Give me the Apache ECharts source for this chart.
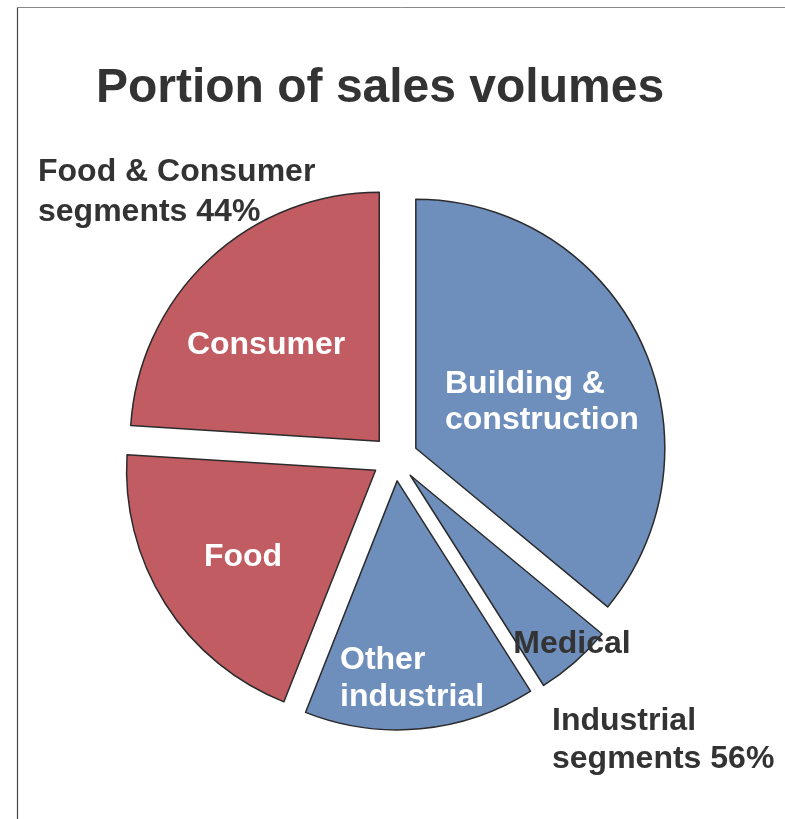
<!DOCTYPE html>
<html>
<head>
<meta charset="utf-8">
<script src="https://cdn.jsdelivr.net/npm/echarts@6/dist/echarts.min.js"></script>
<style>
html,body{margin:0;padding:0;background:#fff;}
#chart{width:785px;height:819px;}
</style>
</head>
<body>
<div id="chart"></div>
<script>
const categories = ['Building & construction', 'Medical', 'Other industrial', 'Food', 'Consumer'];
const values = [36, 5, 15, 20, 24];
const groups = ['industrial', 'industrial', 'industrial', 'food', 'food'];
const groupLabels = ['Food & Consumer\nsegments 44%', 'Industrial\nsegments 56%'];
const titleText = 'Portion of sales volumes';

const colorMap = { industrial: '#6E8EBC', food: '#C05C62' };
const FONT = '"Liberation Sans", Arial, sans-serif';
const TXT = '#333333';

const chart = echarts.init(document.getElementById('chart'), null, { renderer: 'canvas' });

const data = categories.map((c, i) => ({
  name: c,
  value: values[i],
  selected: true,
  itemStyle: { color: colorMap[groups[i]] }
}));

function txt(text, x, y, opts) {
  return {
    type: 'text', x: x, y: y, silent: true, z: 100, zlevel: 1,
    style: Object.assign({ text: text, font: 'bold 32px ' + FONT, fill: '#ffffff', textAlign: 'left', textVerticalAlign: 'middle', lineHeight: 37 }, opts || {})
  };
}

chart.setOption({
  animation: false,
  backgroundColor: '#ffffff',
  series: [{
    type: 'pie',
    center: [395, 458],
    radius: [0, 249],
    startAngle: 90,
    clockwise: true,
    selectedMode: 'multiple',
    selectedOffset: 23,
    avoidLabelOverlap: false,
    label: { show: false },
    labelLine: { show: false },
    emphasis: { disabled: true },
    itemStyle: { borderColor: '#2b2b2b', borderWidth: 1.5 },
    data: data
  }],
  graphic: [
    { type: 'line', silent: true, shape: { x1: 17.5, y1: 7.5, x2: 785, y2: 7.5 }, style: { stroke: '#888888', lineWidth: 1 } },
    { type: 'line', silent: true, shape: { x1: 17.5, y1: 7.5, x2: 17.5, y2: 819 }, style: { stroke: '#444444', lineWidth: 1.2 } },
    txt(titleText, 380, 89, { font: 'bold 48px ' + FONT, fill: TXT, textAlign: 'center' }),
    txt(groupLabels[0], 38, 192, { fill: TXT, lineHeight: 40 }),
    txt(groupLabels[1], 552, 740, { fill: TXT, lineHeight: 38 }),
    txt('Consumer', 266, 345, { textAlign: 'center' }),
    txt('Building &\nconstruction', 445, 402, { lineHeight: 36 }),
    txt('Food', 243, 557, { textAlign: 'center' }),
    txt('Other\nindustrial', 340, 679, { lineHeight: 37 }),
    txt('Medical', 572, 644, { fill: TXT, textAlign: 'center' })
  ]
});
</script>
</body>
</html>
